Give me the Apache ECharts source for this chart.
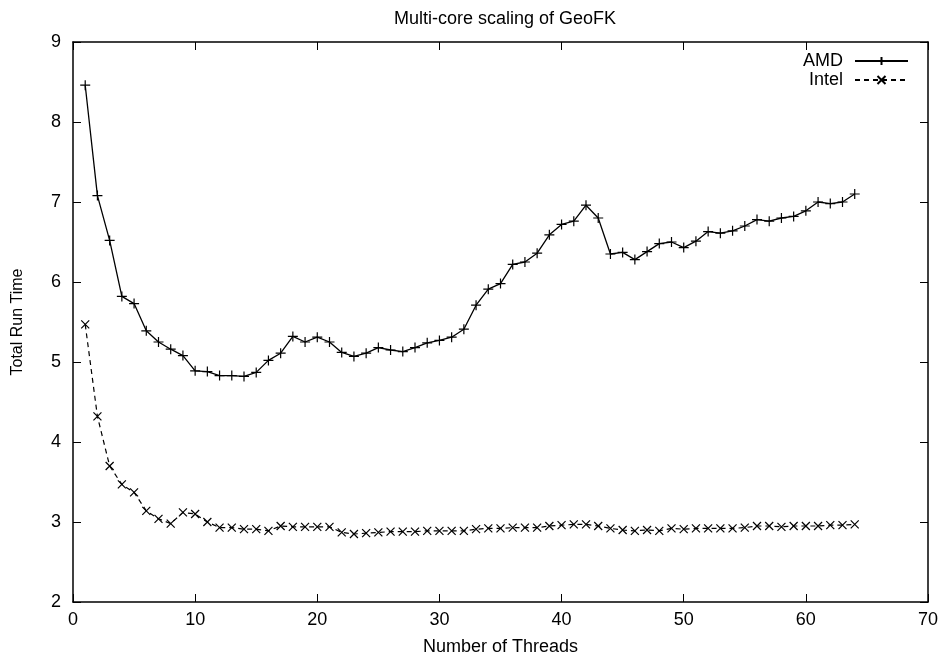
<!DOCTYPE html>
<html>
<head>
<meta charset="utf-8">
<title>Multi-core scaling of GeoFK</title>
<script src="https://cdn.jsdelivr.net/npm/echarts@6/dist/echarts.min.js"></script>
<style>
  html, body { margin: 0; padding: 0; background: #fff; }
  #chart { width: 942px; height: 659px; }
</style>
</head>
<body>
<div id="chart"></div>
<script>
const threads = [1, 2, 3, 4, 5, 6, 7, 8, 9, 10, 11, 12, 13, 14, 15, 16,
  17, 18, 19, 20, 21, 22, 23, 24, 25, 26, 27, 28, 29, 30, 31, 32,
  33, 34, 35, 36, 37, 38, 39, 40, 41, 42, 43, 44, 45, 46, 47, 48,
  49, 50, 51, 52, 53, 54, 55, 56, 57, 58, 59, 60, 61, 62, 63, 64];

const amdTimes = [8.46, 7.08, 6.52, 5.82, 5.73, 5.39, 5.25, 5.16, 5.08, 4.89, 4.88, 4.83, 4.83, 4.82, 4.87, 5.02,
  5.11, 5.32, 5.25, 5.31, 5.25, 5.12, 5.07, 5.11, 5.18, 5.15, 5.13, 5.18, 5.24, 5.27, 5.31, 5.41,
  5.71, 5.91, 5.98, 6.22, 6.25, 6.36, 6.59, 6.72, 6.76, 6.96, 6.80, 6.35, 6.37, 6.28, 6.38, 6.48,
  6.50, 6.43, 6.51, 6.63, 6.61, 6.64, 6.70, 6.78, 6.76, 6.80, 6.82, 6.89, 7.00, 6.98, 7.00, 7.10];

const intelTimes = [5.47, 4.32, 3.70, 3.47, 3.37, 3.14, 3.04, 2.98, 3.12, 3.10, 3.00, 2.93, 2.93, 2.91, 2.91, 2.89,
  2.95, 2.94, 2.94, 2.94, 2.94, 2.87, 2.85, 2.86, 2.87, 2.88, 2.88, 2.88, 2.89, 2.89, 2.89, 2.89,
  2.91, 2.92, 2.92, 2.93, 2.93, 2.93, 2.95, 2.96, 2.97, 2.97, 2.95, 2.92, 2.90, 2.89, 2.90, 2.89,
  2.92, 2.91, 2.92, 2.92, 2.92, 2.92, 2.93, 2.95, 2.95, 2.94, 2.95, 2.95, 2.95, 2.96, 2.96, 2.97];

const plusMark = 'path://M0,5L10,5M5,0L5,10';
const crossMark = 'path://M0,0L10,10M10,0L0,10';

const font = 'Liberation Sans, Arial, Helvetica, sans-serif';

const chart = echarts.init(document.getElementById('chart'));

const pairs = (ys) => threads.map((t, i) => [t, ys[i]]);

// plain black frame, ticks pointing inward like gnuplot
const frameAxis = {
  axisLine: { show: true, onZero: false, lineStyle: { color: '#000', width: 1.5 } },
  axisTick: { show: true, inside: true, length: 8, lineStyle: { color: '#000', width: 1 } },
  splitLine: { show: false }
};

const option = {
  animation: false,
  backgroundColor: '#fff',
  title: {
    text: 'Multi-core scaling of GeoFK',
    left: 500,
    textAlign: 'center',
    top: 5,
    textStyle: { fontFamily: font, fontSize: 18, fontWeight: 'normal', color: '#000' }
  },
  legend: {
    orient: 'vertical',
    right: 28,
    top: 47,
    align: 'right',
    itemWidth: 53,
    itemHeight: 10,
    itemGap: 1,
    textStyle: { fontFamily: font, fontSize: 18, color: '#000', padding: [0, 7, 0, 0] },
    data: ['AMD', 'Intel']
  },
  grid: { left: 73, right: 14, top: 42, bottom: 57, outerBoundsMode: 'none', containLabel: false },
  xAxis: [
    Object.assign({
      type: 'value', min: 0, max: 70, interval: 10,
      name: 'Number of Threads', nameLocation: 'middle', nameGap: 36,
      nameTextStyle: { fontFamily: font, fontSize: 18, color: '#000' },
      axisLabel: { fontFamily: font, fontSize: 18, color: '#000', margin: 9 }
    }, frameAxis),
    Object.assign({
      type: 'value', min: 0, max: 70, interval: 10, position: 'top',
      axisLabel: { show: false }
    }, frameAxis)
  ],
  yAxis: [
    Object.assign({
      type: 'value', min: 2, max: 9, interval: 1,
      name: 'Total Run Time', nameLocation: 'middle', nameGap: 47,
      nameTextStyle: { fontFamily: font, fontSize: 16, color: '#000' },
      axisLabel: { fontFamily: font, fontSize: 18, color: '#000', margin: 12 }
    }, frameAxis),
    Object.assign({
      type: 'value', min: 2, max: 9, interval: 1, position: 'right',
      axisLabel: { show: false }
    }, frameAxis)
  ],
  series: [
    {
      name: 'AMD',
      type: 'line',
      data: pairs(amdTimes),
      symbol: plusMark,
      symbolSize: 10,
      showAllSymbol: true,
      lineStyle: { color: '#000', width: 1.3, type: 'solid' },
      itemStyle: { color: '#000', borderColor: '#000', borderWidth: 1.2 }
    },
    {
      name: 'Intel',
      type: 'line',
      data: pairs(intelTimes),
      symbol: crossMark,
      symbolSize: 8,
      showAllSymbol: true,
      lineStyle: { color: '#000', width: 1.2, type: [5, 4] },
      itemStyle: { color: '#000', borderColor: '#000', borderWidth: 1.2 }
    }
  ]
};

chart.setOption(option);
</script>
</body>
</html>
